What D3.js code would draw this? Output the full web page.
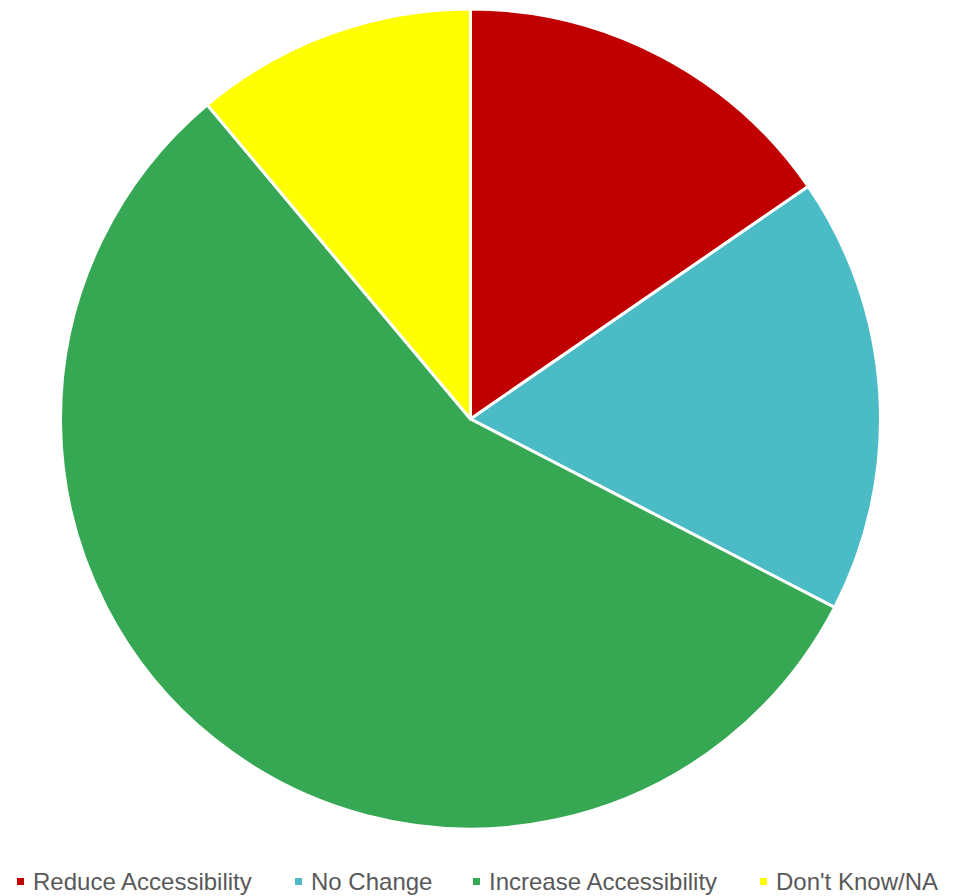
<!DOCTYPE html>
<html>
<head>
<meta charset="utf-8">
<script src="https://cdn.jsdelivr.net/npm/d3@7"></script>
<style>
  body { margin: 0; background: #fff; }
  .legend text { font-family: "Liberation Sans", Arial, sans-serif; font-size: 24px; fill: #595959; }
</style>
</head>
<body>
<div id="chart"></div>
<script>
var categories = ["Reduce Accessibility", "No Change", "Increase Accessibility", "Don't Know/NA"];
var values = [15.4, 17.2, 56.3, 11.1];
var colors = ["#C00000", "#4BBBC6", "#36A853", "#FFFF00"];
var legendX = [17, 295, 473, 760];

var width = 964, height = 896;
var cx = 470.5, cy = 419, radius = 410;

var svg = d3.select("#chart").append("svg")
    .attr("width", width)
    .attr("height", height);

var data = categories.map(function(c, i){
    return {name: c, value: values[i], color: colors[i]};
});

var pie = d3.pie()
    .sort(null)
    .value(function(d){ return d.value; });

var arc = d3.arc()
    .innerRadius(0)
    .outerRadius(radius);

var g = svg.append("g")
    .attr("transform", "translate(" + cx + "," + cy + ")");

g.selectAll("path")
    .data(pie(data))
    .enter().append("path")
    .attr("d", arc)
    .attr("fill", function(d){ return d.data.color; })
    .attr("stroke", "#fff")
    .attr("stroke-width", 3)
    .attr("stroke-linejoin", "round");

// legend
var legend = svg.append("g").attr("class", "legend");
var item = legend.selectAll("g")
    .data(data)
    .enter().append("g")
    .attr("transform", function(d, i){ return "translate(" + legendX[i] + ",0)"; });

item.append("rect")
    .attr("x", 0)
    .attr("y", 878)
    .attr("width", 7)
    .attr("height", 7)
    .attr("fill", function(d){ return d.color; });

item.append("text")
    .attr("x", 16)
    .attr("y", 890)
    .text(function(d){ return d.name; });
</script>
</body>
</html>
